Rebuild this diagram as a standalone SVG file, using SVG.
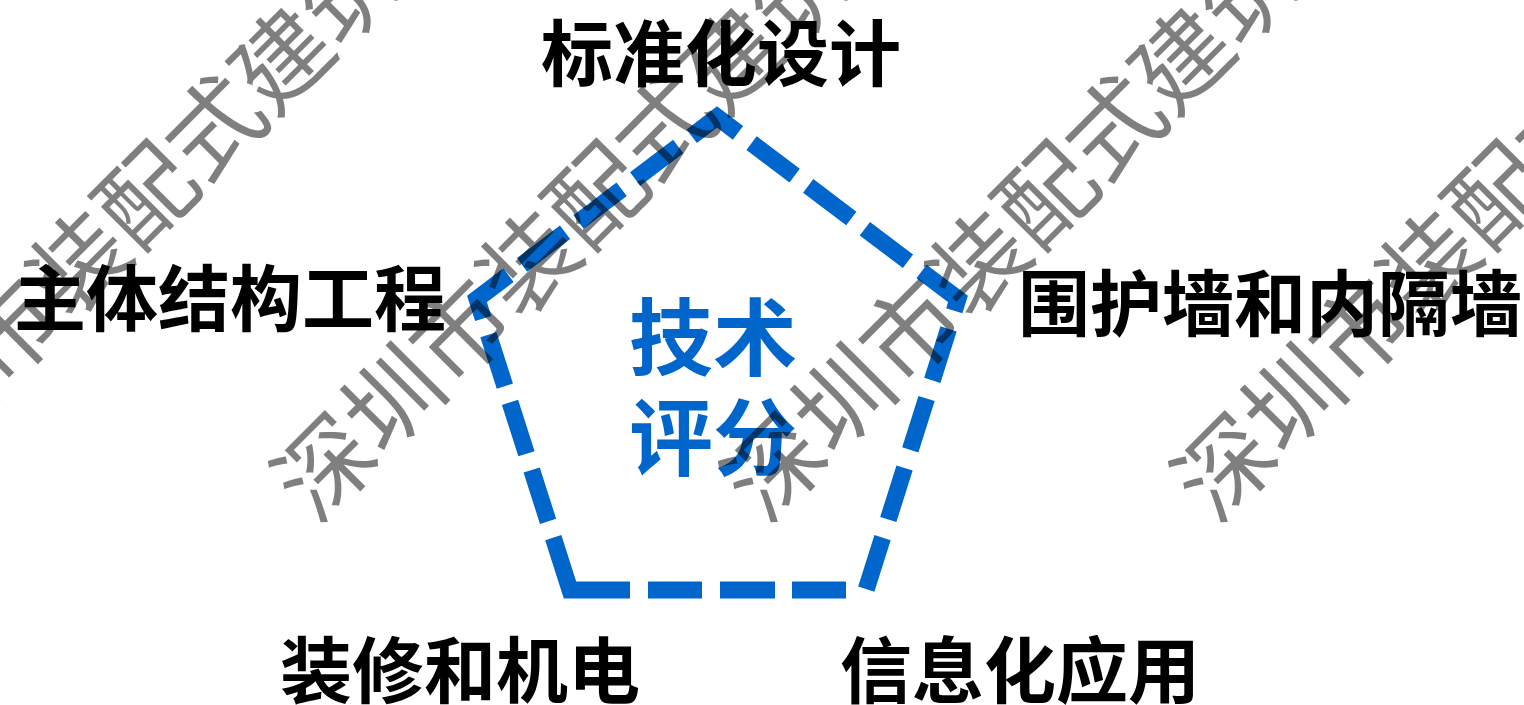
<svg xmlns="http://www.w3.org/2000/svg" width="1524" height="705" viewBox="0 0 1524 705">
<style>
.lbl{font-family:"Noto Sans CJK SC","Liberation Sans",sans-serif;font-weight:bold;font-size:72px;fill:#000;text-anchor:middle}
.ctr{font-family:"Noto Sans CJK SC","Liberation Sans",sans-serif;font-weight:bold;font-size:84px;fill:#0066CC;text-anchor:middle}
.wm{font-family:"Noto Sans CJK SC","Liberation Sans",sans-serif;font-weight:normal;font-size:96px;fill:#000;fill-opacity:0.5}
.pent{fill:none;stroke:#0066CC;stroke-width:17;stroke-linejoin:miter;stroke-dasharray:0 20 54 17 55 18 54 18 115 17 54 17 54 17 54 17 60 17 54 17 54 17 54 17 58 17 54 17 54 17 54 17 58 19 54 19 54 19 54 19 54 10}
</style>
<rect width="1524" height="705" fill="#fff"/>
<g id="center">
<path class="pent" d="M866,590 L570,590 L477,299 L717,117 L958,299 Z"/>
<text class="ctr" x="713" y="369">技术</text>
<text class="ctr" x="713" y="469">评分</text>
</g>
<g id="node-standard"><text class="lbl" x="721" y="80">标准化设计</text></g>
<g id="node-structure"><text class="lbl" x="230" y="325">主体结构工程</text></g>
<g id="node-walls"><text class="lbl" x="1270" y="330">围护墙和内隔墙</text></g>
<g id="node-decoration"><text class="lbl" x="460" y="697">装修和机电</text></g>
<g id="node-info"><text class="lbl" x="1020" y="697">信息化应用</text></g>
<g id="connectors"></g>
<g id="watermark">
<text class="wm" transform="translate(-125,467) rotate(-45)" x="-48" y="35">深圳市装配式建筑</text>
<text class="wm" transform="translate(325,467) rotate(-45)" x="-48" y="35">深圳市装配式建筑</text>
<text class="wm" transform="translate(775,467) rotate(-45)" x="-48" y="35">深圳市装配式建筑</text>
<text class="wm" transform="translate(1225,467) rotate(-45)" x="-48" y="35">深圳市装配式建筑</text>
</g>
</svg>
